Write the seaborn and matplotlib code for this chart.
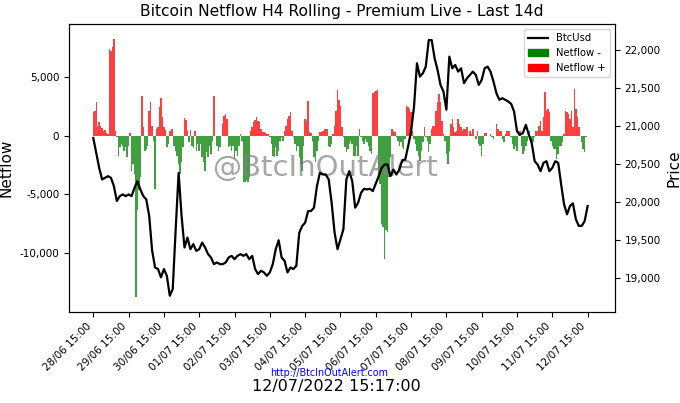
import numpy as np
import pandas as pd
import seaborn as sns
import matplotlib.pyplot as plt
import matplotlib.dates as mdates
from matplotlib.ticker import FuncFormatter
from matplotlib.lines import Line2D
from matplotlib.patches import Patch

## ------------------------- data -------------------------
start = "2022-06-28 15:00"

# hourly netflow (BTC), 4h rolling
netflow = [
    1980, 2120, 2830, 700, 1130, 850, 650, 420, 480, 200, 140, 7350,
    7200, 7490, 8190, 420, -140, -1700, -990, -700, -850, -1270, -990, -1840,
    -850, 200, -2970, -2400, -3250, -13700, -6360, -4660, -3530, 3390, 700, -1270,
    -1130, -850, 2120, 2830, 850, -420, -4520, 560, 700, 2400, 3190, 1550,
    700, 480, -990, -700, 420, 560, 560, -850, -1270, -1700, -2400, -3250,
    -2260, -990, 1500, 1330, 420, -570, 480, -850, -1050, 420, -1270, -700,
    -1330, -700, -1840, -2260, -2970, -1410, -1840, -850, -1550, -420, 3390, 0,
    -850, -1270, -990, 0, 990, 1700, 1840, 1410, -990, -850, -1270, -850,
    -1980, -1270, -1700, -850, 140, -420, -3950, -3950, -3810, -3950, -3530, 420,
    700, 1130, 1330, 1550, 1270, 1130, 565, 280, 280, 200, 140, 140,
    -140, -700, -1700, -1840, -990, -1700, -1270, -420, -140, -420, 420, 850,
    1410, 1700, 1980, 420, -140, -700, -1270, -850, -1840, -2400, -2970, -850,
    1410, 1270, 2970, 280, 200, -420, -1840, -2260, -1270, -420, 280, 280,
    420, 565, 565, 565, -850, -990, -700, 140, 800, 2120, 3870, 3000,
    2500, 700, -140, -990, -1410, -1130, -700, -420, -700, -1700, -1700, -850,
    -1700, 565, -140, -420, -700, -280, -570, -850, -1270, -1550, 3590, 3670,
    3810, 3870, -3250, -4100, -7490, -7770, -10450, -8050, -8190, -3530, -1840, 565,
    420, 280, -140, -420, -850, -570, -990, -1130, -280, 2540, 2400, 2260,
    1980, 420, -280, -700, -1270, -1700, -2120, -1270, -570, 700, -140, -420,
    -1410, -700, 565, 850, 850, 2120, 2830, 3530, 2830, 1270, 140, -420,
    -1550, -2400, -1270, 990, 1410, 700, 280, 420, 1410, 990, 700, 420,
    565, 565, 700, 0, 420, 140, 565, 0, -280, 420, -700, -850,
    -1700, -700, 200, 200, 0, 0, 140, -140, -280, 0, 990, 565,
    420, 420, -280, -570, 140, 420, 420, 420, -140, -700, -1130, -850,
    -1270, 420, 420, -850, -1550, -1270, -850, -420, 420, 0, -850, -570,
    -140, 420, 420, 850, 1270, 420, 1550, 3670, 2120, 2260, 1980, -420,
    -850, -1130, -1130, -1980, -1550, -850, -850, -570, 140, 2120, 1980, 1840,
    1410, 2120, 700, 3950, 2260, 1550, 700, 0, -570, -1130, -1410, -140,
    0,
]

# BTC/USD price every 2 hours
price = [
    20844, 20648, 20451, 20299, 20320, 20342, 20320, 20211, 20015, 20080,
    20102, 20080, 20102, 20080, 20190, 20277, 20168, 20080, 20037, 19819,
    19361, 19142, 19121, 19012, 19121, 19033, 18770, 18859, 19644, 20386,
    19819, 19404, 19535, 19382, 19448, 19361, 19382, 19470, 19404, 19317,
    19273, 19186, 19208, 19186, 19186, 19208, 19273, 19295, 19251, 19295,
    19317, 19295, 19317, 19251, 19295, 19121, 19055, 19099, 19077, 19033,
    19077, 19186, 19382, 19500, 19273, 19230, 19077, 19142, 19121, 19164,
    19600, 19688, 19731, 19884, 19884, 19928, 20211, 20386, 20364, 20364,
    20299, 19993, 19600, 19382, 19513, 19644, 20299, 20408, 20277, 19928,
    19993, 20124, 20176, 20168, 20176, 20146, 20246, 20342, 20451, 20495,
    20495, 20342, 20429, 20364, 20429, 20552, 20560, 20735, 20931, 21258,
    21826, 21651, 21695, 21782, 22131, 22131, 21891, 21738, 21542, 21455,
    21215, 21913, 21760, 21804, 21717, 21760, 21564, 21629, 21673, 21717,
    21673, 21542, 21608, 21760, 21782, 21717, 21586, 21433, 21346, 21367,
    21346, 21324, 21293, 21193, 20931, 20888, 20909, 21018, 20888, 20778,
    20539, 20495, 20408, 20517, 20539, 20408, 20451, 20539, 20517, 20233,
    19971, 19840, 19950, 19985, 19775, 19688, 19688, 19753, 19950,
]

title = "Bitcoin Netflow H4 Rolling - Premium Live - Last 14d"
stamp = "12/07/2022 15:17:00"
url = "http://BtcInOutAlert.com"

## ---------------------------------------------------------------------------
flow = pd.DataFrame({"time": pd.date_range(start, periods=len(netflow), freq="h"),
                     "netflow": netflow})
btc = pd.DataFrame({"time": pd.date_range(start, periods=len(price), freq="2h"),
                    "price": price})

fig, ax = plt.subplots(figsize=(6.8, 4.03), dpi=100)
fig.subplots_adjust(left=0.1015, right=0.9044, bottom=0.2266, top=0.9404)

neg = flow[flow.netflow < 0]
pos = flow[flow.netflow >= 0]
ax.bar(neg.time, neg.netflow, width=1/24, color="green", alpha=0.75, linewidth=0)
ax.bar(pos.time, pos.netflow, width=1/24, color="red", alpha=0.75, linewidth=0)
ax.set_ylim(-14960, 9480)
ax.set_ylabel("Netflow", fontsize=11)
ax.yaxis.set_major_formatter(FuncFormatter(lambda v, p: "{:,.0f}".format(v)))
ax.tick_params(labelsize=7.5)

ax.text(0.469, 0.5, "@BtcInOutAlert", transform=ax.transAxes, ha="center",
        va="center", fontsize=21, color="gray", alpha=0.7)

ax2 = ax.twinx()
sns.lineplot(data=btc, x="time", y="price", ax=ax2, color="black", lw=1.6)
ax2.set_ylim(18561, 22342)
ax2.set_ylabel("Price", fontsize=11)
ax2.set_xlabel("")
ax2.yaxis.set_major_formatter(FuncFormatter(lambda v, p: "{:,.0f}".format(v)))
ax2.tick_params(labelsize=7.5)

t0 = pd.Timestamp(start)
ax.set_xlim(t0 - pd.Timedelta(hours=16.5), t0 + pd.Timedelta(hours=354.6))
ax.set_xticks(pd.date_range(start, periods=15, freq="D"))
ax.xaxis.set_major_formatter(mdates.DateFormatter("%d/%m %H:%M"))
plt.setp(ax.get_xticklabels(), rotation=45, ha="right", fontsize=7.5)
ax.set_xlabel("")

ax.set_title(title, fontsize=11.2)

handles = [Line2D([], [], color="black", lw=1.6),
           Patch(color="green"), Patch(color="red")]
ax2.legend(handles, ["BtcUsd", "Netflow -", "Netflow +"], loc="upper right",
           fontsize=7.2)

fig.text(0.484, 1 - 373.5/403, url, color="blue", fontsize=6.9, ha="center", va="center")
fig.text(0.494, 1 - 387/403, stamp, fontsize=11.5, ha="center", va="center")

fig.savefig("out.png", dpi=100)
